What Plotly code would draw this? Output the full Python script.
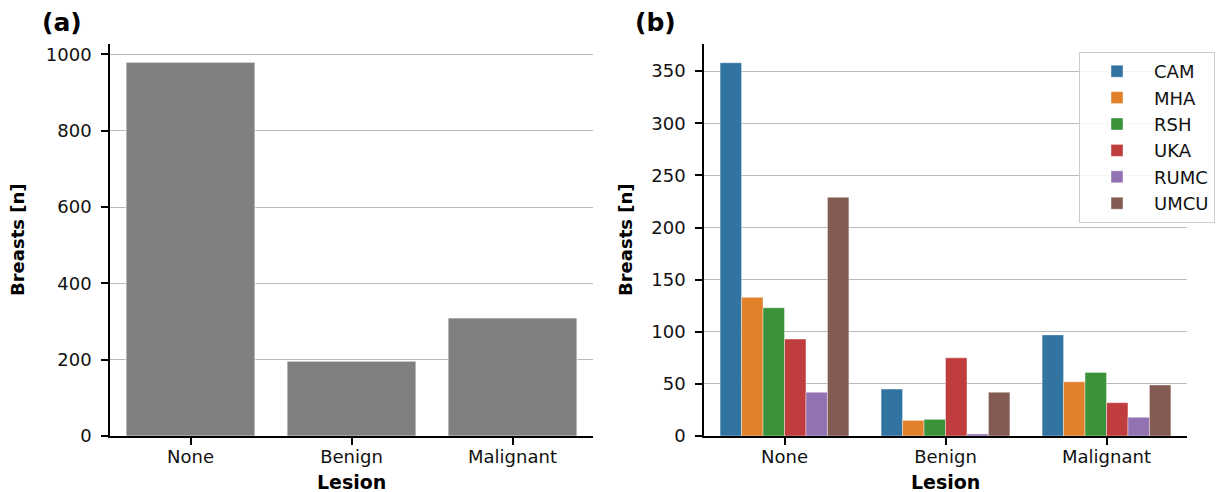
import plotly.graph_objects as go

# ---- data ----
lesions = ["None", "Benign", "Malignant"]
total_breasts = [979, 196, 309]

sites = ["CAM", "MHA", "RSH", "UKA", "RUMC", "UMCU"]
cam = [358, 45, 97]
mha = [133, 15, 52]
rsh = [123, 16, 61]
uka = [93, 75, 32]
rumc = [42, 2, 18]
umcu = [229, 42, 49]
site_values = [cam, mha, rsh, uka, rumc, umcu]
site_colors = ["#3274a1", "#e1812c", "#3a923a", "#c03d3e", "#9372b2", "#845b53"]

SY = 0.98          # observed vertical scale of the photographed page
W, H = 1225, 502
FONT = "DejaVu Sans"

fig = go.Figure()

fig.add_trace(go.Bar(
    x=lesions, y=total_breasts, marker=dict(color="#808080", line=dict(color="rgba(255,255,255,0.6)", width=1)),
    xaxis="x", yaxis="y", showlegend=False))

for name, vals, col in zip(sites, site_values, site_colors):
    fig.add_trace(go.Bar(
        x=lesions, y=vals, name=name,
        marker=dict(color=col, line=dict(color="rgba(255,255,255,0.5)", width=0.8)),
        xaxis="x2", yaxis="y2"))

def px_x(p):
    return p / W

def px_y(p):
    return 1 - (p / SY) / H

tickfont = dict(family=FONT, size=18, color="#111")
common_x = dict(showline=True, linecolor="black", linewidth=1.5, ticks="outside",
                ticklen=7, tickwidth=1.5, tickcolor="black", showgrid=False,
                tickfont=tickfont, zeroline=False, ticklabelstandoff=-3)
common_y = dict(showline=True, linecolor="black", linewidth=1.5, ticks="outside",
                ticklen=7, tickwidth=1.5, tickcolor="black", showgrid=True,
                gridcolor="#bababa", gridwidth=1.4, tickfont=tickfont, zeroline=False,
                ticklabelstandoff=6)

fig.update_layout(
    width=W, height=H,
    margin=dict(l=0, r=0, t=0, b=0),
    plot_bgcolor="white", paper_bgcolor="white",
    barmode="group", bargap=0.2, bargroupgap=0,
    xaxis=dict(domain=[px_x(110), px_x(593)], anchor="y", **common_x),
    yaxis=dict(domain=[px_y(436), px_y(44)], anchor="x", range=[0, 1027],
               tickvals=[0, 200, 400, 600, 800, 1000], **common_y),
    xaxis2=dict(domain=[px_x(704), px_x(1187)], anchor="y2", **common_x),
    yaxis2=dict(domain=[px_y(436), px_y(44)], anchor="x2", range=[0, 376],
                tickvals=[0, 50, 100, 150, 200, 250, 300, 350], **common_y),
    legend=dict(x=px_x(1079), y=px_y(52), xanchor="left", yanchor="top",
                bgcolor="rgba(255,255,255,0.85)", bordercolor="#cccccc", borderwidth=1,
                font=dict(family=FONT, size=18, color="#111"), tracegroupgap=0,
                itemwidth=64),
    font=dict(family=FONT),
)

annots = [
    dict(text="<b>(a)</b>", x=px_x(62), y=px_y(22)),
    dict(text="<b>(b)</b>", x=px_x(655), y=px_y(22)),
]
for a in annots:
    fig.add_annotation(xref="paper", yref="paper", x=a["x"], y=a["y"], text=a["text"],
                       showarrow=False, xanchor="center", yanchor="middle",
                       font=dict(family=FONT, size=25, color="black"))

for xc in [351.5, 945.5]:
    fig.add_annotation(xref="paper", yref="paper", x=px_x(xc), y=px_y(482), text="<b>Lesion</b>",
                       showarrow=False, xanchor="center", yanchor="middle",
                       font=dict(family=FONT, size=19, color="black"))
for xc in [17, 625]:
    fig.add_annotation(xref="paper", yref="paper", x=px_x(xc), y=px_y(240), text="<b>Breasts [n]</b>",
                       showarrow=False, xanchor="center", yanchor="middle", textangle=-90,
                       font=dict(family=FONT, size=18, color="black"))

page_fix = ("document.documentElement.style.margin='0';document.documentElement.style.padding='0';"
            "document.body.style.margin='0';document.body.style.padding='0';")
fig.write_html("out.html", post_script=page_fix, config={"displayModeBar": False})
